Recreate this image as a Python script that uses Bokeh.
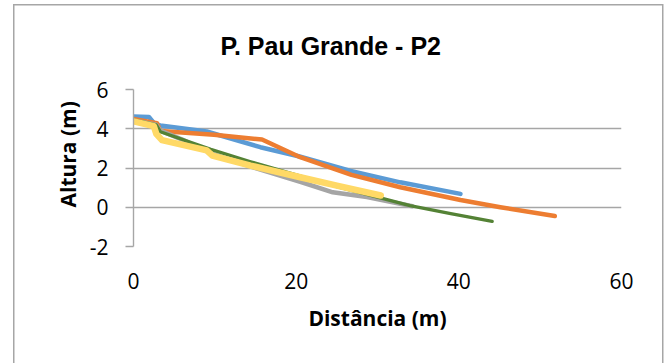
from bokeh.embed import file_html
from bokeh.models import FixedTicker, Range1d, Title
from bokeh.plotting import figure
from bokeh.resources import INLINE

# Profile P2 at Pau Grande: distance along the section (m) vs height (m)
blue_x = [0, 1.9, 2.6, 3.3, 9.0, 15.6, 20.3, 26.7, 32.8, 40.2]
blue_y = [4.62, 4.6, 4.25, 4.17, 3.86, 3.06, 2.6, 1.85, 1.27, 0.68]

orange_x = [0, 2.9, 3.3, 9.9, 15.8, 20.5, 26.8, 32.8, 40.2, 45.1, 51.8]
orange_y = [4.5, 4.28, 3.88, 3.69, 3.45, 2.55, 1.65, 1.02, 0.37, 0.0, -0.45]

gray_x = [0, 2.8, 3.3, 6.0, 9.5, 15.0, 20.5, 24.5, 28.7, 34.3]
gray_y = [4.42, 4.2, 3.9, 3.45, 2.75, 2.0, 1.3, 0.76, 0.52, 0.05]

green_x = [0, 2.8, 3.3, 9.5, 14.4, 20.0, 25.0, 30.0, 34.0, 39.0, 44.1]
green_y = [4.45, 4.2, 3.85, 2.95, 2.32, 1.65, 1.05, 0.52, 0.08, -0.33, -0.72]

yellow_x = [0, 2.5, 2.8, 3.5, 9.0, 9.7, 14.4, 20.5, 25.0, 30.4]
yellow_y = [4.38, 4.13, 3.74, 3.42, 2.9, 2.63, 2.12, 1.53, 1.1, 0.6]

x_ticks = [0, 20, 40, 60]
y_ticks = [-2, 0, 2, 4, 6]

title_text = "P. Pau Grande - P2"
x_title = "Distância (m)"
y_title = "Altura (m)"

GRID = "#A6A6A6"

# thin grey frame around the whole chart, painted as CSS backgrounds
line = f"linear-gradient({GRID},{GRID})"
frame_styles = {
    "background-color": "white",
    "background-image": ", ".join([line] * 3),
    "background-size": "1.5px 370px, 1.5px 370px, 650px 1.5px",
    "background-position": "13px 4px, 662px 4px, 13px 4px",
    "background-repeat": "no-repeat",
}

p = figure(
    width=672, height=363,
    output_backend="svg", toolbar_location=None,
    x_range=Range1d(0, 60), y_range=Range1d(-2, 6),
    min_border_left=133, min_border_right=51,
    min_border_top=89, min_border_bottom=117,
    styles=frame_styles,
)
p.outline_line_color = None
p.background_fill_color = "white"
p.border_fill_color = None

# chart title
p.title.text = title_text
p.title.align = "left"
p.title.offset = 87
p.title.standoff = 59
p.title.text_font = "Liberation Sans"
p.title.text_font_style = "bold"
p.title.text_font_size = "25px"
p.title.text_color = "black"

# axes
xa = p.xaxis[0]
xa.ticker = FixedTicker(ticks=x_ticks)
xa.axis_line_color = None
xa.major_tick_line_color = None
xa.minor_tick_line_color = None
xa.major_label_text_font = "Open Sans"
xa.major_label_text_font_size = "21px"
xa.major_label_text_color = "black"
xa.major_label_standoff = 20
xa.axis_label = x_title
xa.axis_label_text_font = "Open Sans"
xa.axis_label_text_font_style = "bold"
xa.axis_label_text_font_size = "21px"
xa.axis_label_text_color = "black"
xa.axis_label_standoff = 12

ya = p.yaxis[0]
ya.ticker = FixedTicker(ticks=y_ticks)
ya.major_label_overrides = {-2: "-2"}
ya.axis_line_color = GRID
ya.axis_line_width = 1.4
ya.major_tick_line_color = GRID
ya.major_tick_line_width = 1.4
ya.major_tick_out = 8
ya.major_tick_in = 0
ya.minor_tick_line_color = None
ya.major_label_text_font = "Open Sans"
ya.major_label_text_font_size = "21px"
ya.major_label_text_color = "black"
ya.major_label_standoff = 17

# vertical axis title, starting just above the zero line
p.add_layout(Title(
    text=y_title, align="left", offset=39, standoff=10,
    text_font="Open Sans", text_font_style="bold",
    text_font_size="21px", text_color="black",
), "left")

p.xgrid.grid_line_color = None
p.ygrid.ticker = FixedTicker(ticks=y_ticks)
p.ygrid.grid_line_color = GRID
p.ygrid.grid_line_width = 1.4

# series, drawn back to front
series = [
    (blue_x, blue_y, "#5B9BD5", 4.5),
    (orange_x, orange_y, "#ED7D31", 4.5),
    (gray_x, gray_y, "#A5A5A5", 4.5),
    (green_x, green_y, "#548235", 3.3),
    (yellow_x, yellow_y, "#FFD966", 6.5),
]
for xs, ys, color, w in series:
    p.line(xs, ys, line_color=color, line_width=w,
           line_join="round", line_cap="round")

open("out.html", "w").write(file_html(p, INLINE))
